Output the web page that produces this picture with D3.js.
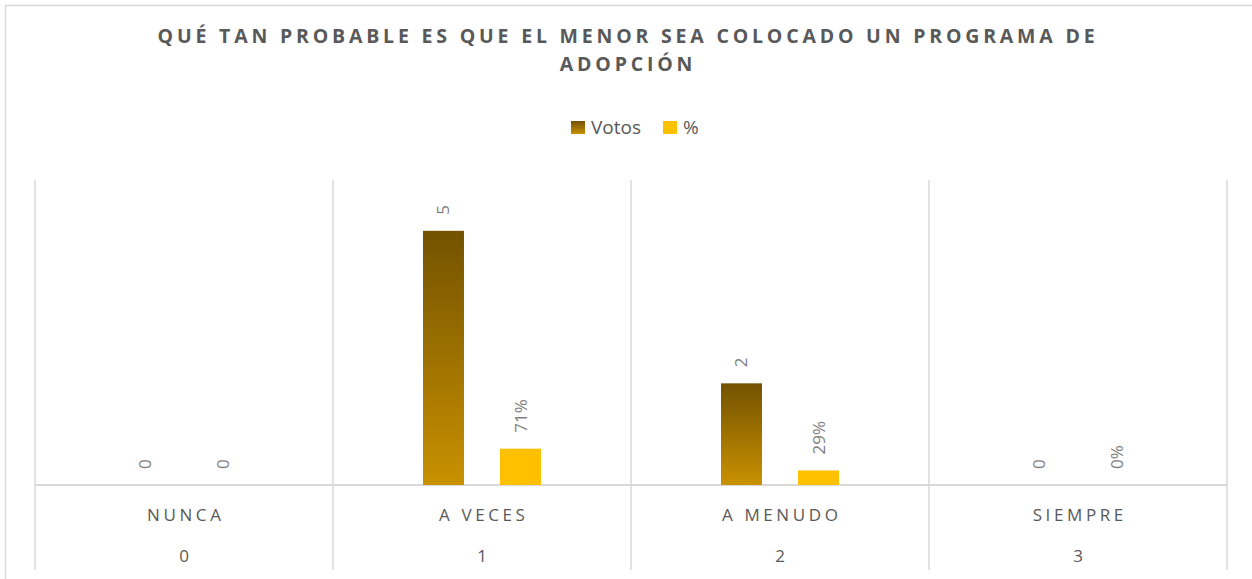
<!DOCTYPE html>
<meta charset="utf-8">
<style>
body { margin: 0; background: #fff; }
svg text { font-family: "Open Sans", "Liberation Sans", sans-serif; }
.grid line { stroke: #d9d9d9; stroke-width: 1.5px; }
.cat { fill: #595959; font-size: 17px; letter-spacing: 3.6px; }
.num { fill: #595959; font-size: 17px; }
.lbl { fill: #7f7f7f; font-size: 17px; }
</style>
<svg width="1252" height="579"></svg>
<script src="https://d3js.org/d3.v7.min.js"></script>
<script>

  var categories = ["NUNCA", "A VECES", "A MENUDO", "SIEMPRE"];
  var codes = ["0", "1", "2", "3"];
  var series = ["Votos", "%"];
  var votos = [0, 5, 2, 0];
  var pct = [0, 0.714, 0.286, 0];
  var votosLabels = ["0", "5", "2", "0"];
  var pctLabels = ["0", "71%", "29%", "0%"];
  var titleLines = ["QUÉ TAN PROBABLE ES QUE EL MENOR SEA COLOCADO UN PROGRAMA DE", "ADOPCIÓN"];

  var svg = d3.select("svg");

  // gradient for Votos
  var defs = svg.append("defs");
  var grad = defs.append("linearGradient")
      .attr("id", "gVotos")
      .attr("x1", 0).attr("y1", 0).attr("x2", 0).attr("y2", 1);
  grad.append("stop").attr("offset", "0%").attr("stop-color", "#735200");
  grad.append("stop").attr("offset", "100%").attr("stop-color", "#c99100");

  var colors = { "Votos": "url(#gVotos)", "%": "#ffc000" };

  // outer frame
  svg.append("rect")
      .attr("x", 5.5).attr("y", 5.5)
      .attr("width", 1300).attr("height", 650)
      .attr("fill", "none")
      .attr("stroke", "#d9d9d9")
      .attr("stroke-width", 1.5);

  // title (spacing fitted so line 1 spans about 937px)
  var title = svg.append("g").selectAll("text")
      .data(titleLines)
      .enter().append("text")
      .attr("x", 628)
      .attr("y", function(d, i) { return 43 + i * 28; })
      .attr("text-anchor", "middle")
      .attr("fill", "#595959")
      .attr("font-size", "19.5px")
      .attr("font-weight", "bold")
      .text(function(d) { return d; });
  var w0 = title.node().getComputedTextLength();
  var ls = (937 - w0) / (titleLines[0].length - 1);
  title.attr("letter-spacing", ls + "px");

  // legend
  var legend = svg.append("g");
  var legX = [571, 663];
  series.forEach(function(s, i) {
    legend.append("rect")
        .attr("x", legX[i]).attr("y", 121)
        .attr("width", 14).attr("height", 13)
        .attr("fill", colors[s]);
    legend.append("text")
        .attr("x", legX[i] + 20).attr("y", 134)
        .attr("fill", "#595959")
        .attr("font-size", "19px")
        .text(s);
  });

  var left = 35, right = 1227, plotTop = 180, base = 485, plotBottom = 570;

  var x0 = d3.scaleBand().domain(categories).range([left, right]).padding(0);
  var bw = x0.bandwidth();
  var x1 = d3.scaleBand().domain(series)
      .range([bw / 2 - 59, bw / 2 + 59])
      .paddingInner(0.468).paddingOuter(0);
  var y = d3.scaleLinear().domain([0, 6]).range([base, plotTop]);

  // gridlines
  var grid = svg.append("g").attr("class", "grid");
  var bounds = categories.map(function(c) { return x0(c); }).concat([right]);
  grid.selectAll("line.v")
      .data(bounds)
      .enter().append("line")
      .attr("class", "v")
      .attr("x1", function(d) { return d; })
      .attr("x2", function(d) { return d; })
      .attr("y1", plotTop).attr("y2", plotBottom);
  grid.append("line")
      .attr("x1", left).attr("x2", right)
      .attr("y1", base).attr("y2", base)
      .style("stroke-width", "2px");

  var rows = categories.map(function(c, i) {
    return { cat: c, vals: [
      { s: "Votos", v: votos[i], label: votosLabels[i] },
      { s: "%", v: pct[i], label: pctLabels[i] }
    ] };
  });

  var groups = svg.append("g").selectAll("g")
      .data(rows)
      .enter().append("g")
      .attr("transform", function(d) { return "translate(" + x0(d.cat) + ",0)"; });

  groups.selectAll("rect")
      .data(function(d) { return d.vals; })
      .enter().append("rect")
      .attr("x", function(d) { return x1(d.s); })
      .attr("width", x1.bandwidth())
      .attr("y", function(d) { return y(d.v); })
      .attr("height", function(d) { return base - y(d.v); })
      .attr("fill", function(d) { return colors[d.s]; });

  groups.selectAll("text")
      .data(function(d) { return d.vals; })
      .enter().append("text")
      .attr("class", "lbl")
      .attr("transform", function(d) {
        return "translate(" + (x1(d.s) + x1.bandwidth() / 2 + 6) + "," + (y(d.v) - 16) + ") rotate(-90)";
      })
      .attr("text-anchor", "start")
      .text(function(d) { return d.label; });

  // category labels
  svg.append("g").selectAll("text")
      .data(categories)
      .enter().append("text")
      .attr("class", "cat")
      .attr("x", function(d) { return x0(d) + bw / 2 + 1.8; })
      .attr("y", 521)
      .attr("text-anchor", "middle")
      .text(function(d) { return d; });

  svg.append("g").selectAll("text")
      .data(codes)
      .enter().append("text")
      .attr("class", "num")
      .attr("x", function(d, i) { return x0(categories[i]) + bw / 2; })
      .attr("y", 562)
      .attr("text-anchor", "middle")
      .text(function(d) { return d; });

</script>
